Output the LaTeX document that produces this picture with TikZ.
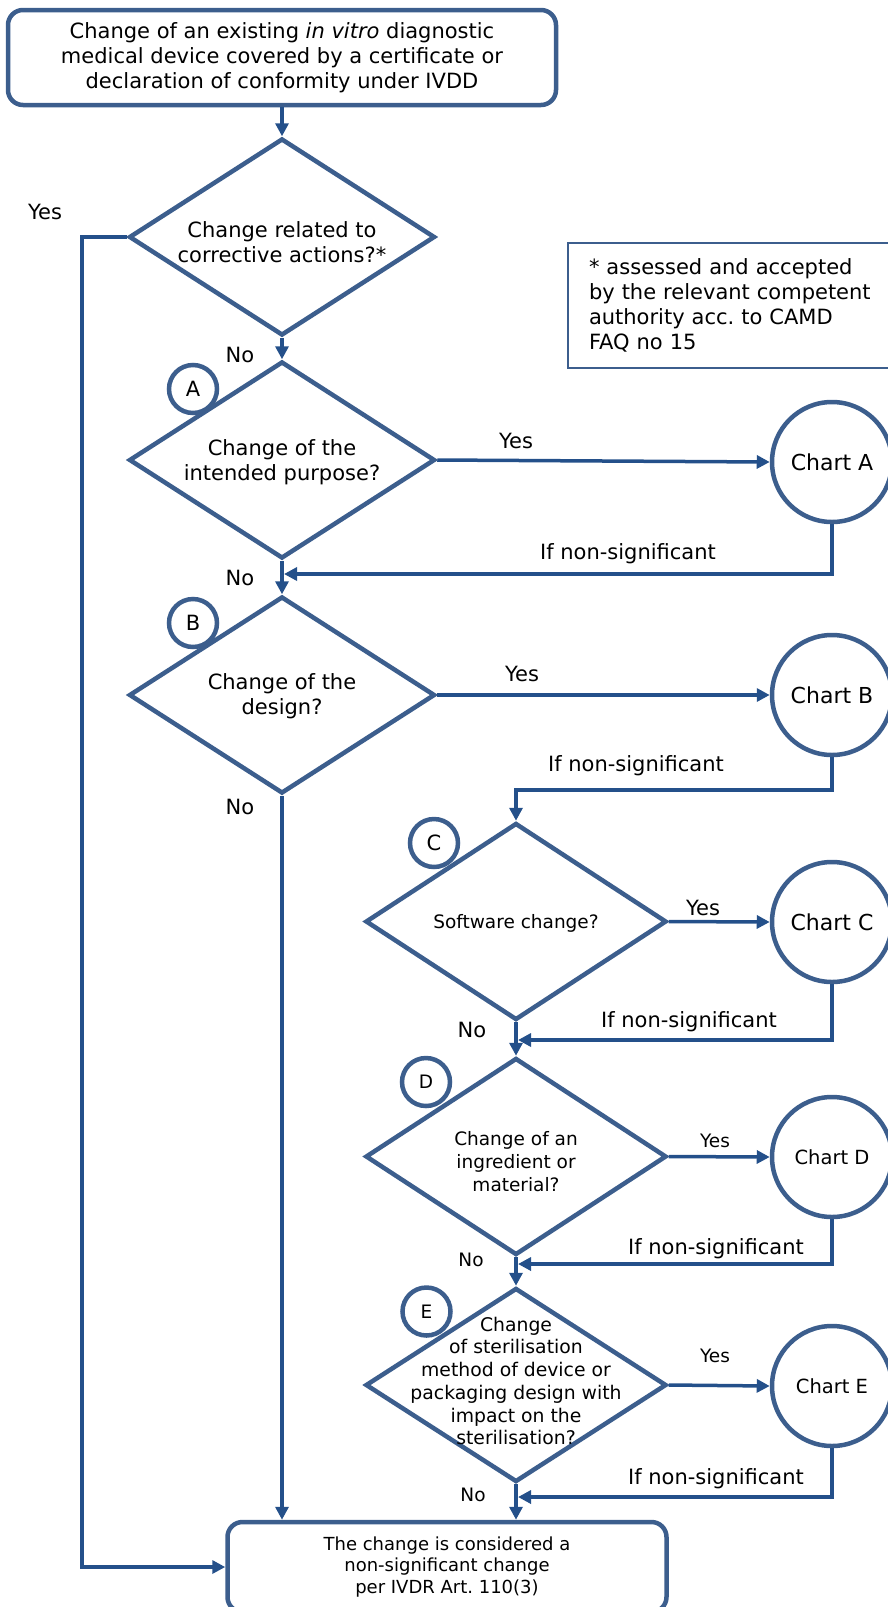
\documentclass[tikz,border=0pt]{standalone}
\usepackage{fontspec}
\setmainfont{DejaVu Sans}
\usetikzlibrary{arrows.meta,shapes.geometric}
\definecolor{shapeblue}{HTML}{3C5E8D}
\definecolor{linkblue}{HTML}{24508A}
\newcommand\szbig{\fontsize{21}{25}\selectfont}
\newcommand\szchart{\fontsize{22}{26}\selectfont}
\newcommand\szmid{\fontsize{18.5}{23}\selectfont}
\newcommand\szster{\fontsize{18.8}{22.7}\selectfont}
\newcommand\szfin{\fontsize{18}{21.8}\selectfont}
\frenchspacing
\tikzset{
  startbox/.style={draw=shapeblue, line width=4.5, rounded corners=15, inner sep=0, align=center},
  decision/.style={diamond, draw=shapeblue, line width=4.5, minimum width=306, minimum height=197, inner sep=0},
  chartcirc/.style={circle, draw=shapeblue, line width=4.5, minimum size=120, inner sep=0, font=\szchart},
  markcirc/.style={circle, draw=shapeblue, line width=4.5, fill=white, minimum size=48, inner sep=0, font=\szbig},
  notebox/.style={draw=shapeblue, line width=2, align=left},
  link/.style={draw=linkblue, line width=3.5, -{Triangle[length=13,width=13]}},
  lbl/.style={inner sep=0, font=\szbig},
}
\begin{document}
\begin{tikzpicture}[x=1pt,y=-1pt]
%%%%% START %%%%%
\useasboundingbox (0,0) rectangle (888,1607);
\clip (0,0) rectangle (888,1607);

% start and end
\node[startbox, font=\szbig, minimum width=548, minimum height=95] (start) at (282,57.5)
  {Change of an existing \textit{in vitro} diagnostic\\medical device covered by a certificate or\\declaration of conformity under IVDD};
\node[startbox, font=\szfin, minimum width=439, minimum height=90] (fin) at (447,1567)
  {The change is considered a\\non-significant change\\per IVDR Art. 110(3)};

% corrective actions
\node[decision] (dq) at (282,237) {};
\node[lbl, align=center] (tq) at (282,242) {Change related to\\corrective actions?*};
\node[notebox, anchor=north west, font=\szbig, text width=290, inner xsep=21, minimum height=125] (note) at (567,242)
  {* assessed and accepted\\by the relevant competent\\authority acc. to CAMD\\FAQ no 15};

% A
\node[decision] (dA) at (282,460) {};
\node[lbl, align=center] (tA) at (282,462) {Change of the\\intended purpose?};
\node[markcirc] (mA) at (193,389) {A};
\node[chartcirc] (cA) at (832,462) {Chart A};

% B
\node[decision] (dB) at (282,695) {};
\node[lbl, align=center] (tB) at (282,696) {Change of the\\design?};
\node[markcirc] (mB) at (193,623) {B};
\node[chartcirc] (cB) at (832,695) {Chart B};

% C
\node[decision, minimum width=301] (dC) at (516,921.5) {};
\node[lbl, font=\szmid] (tC) at (516,923) {Software change?};
\node[markcirc] (mC) at (434,843) {C};
\node[chartcirc] (cC) at (832,922) {Chart C};

% D
\node[decision, minimum width=301] (dD) at (516,1156.5) {};
\node[lbl, font=\szmid, align=center] (tD) at (516,1162) {Change of an\\ingredient or\\material?};
\node[markcirc, font=\szmid] (mD) at (426,1082) {D};
\node[chartcirc, font=\fontsize{19.5}{23}\selectfont] (cD) at (832,1157) {Chart D};

% E
\node[decision, minimum width=301, minimum height=194] (dE) at (516,1385) {};
\node[lbl, font=\szster, align=center] (tE) at (516,1381)
  {Change\\of sterilisation\\method of device or\\packaging design with\\impact on the\\sterilisation?};
\node[markcirc, font=\szmid] (mE) at (426.5,1311.5) {E};
\node[chartcirc, font=\fontsize{19.5}{23}\selectfont] (cE) at (832,1386) {Chart E};

% bends
\coordinate (yesbend) at (82,237);
\coordinate (backA) at (284,574);
\coordinate (backB) at (516,790);
\coordinate (backC) at (518,1040);
\coordinate (backD) at (518,1264);
\coordinate (backE) at (518,1497);

% down the middle
\draw[link] (start.south) -- (dq.north);
\draw[link] (dq.south) -- (dA.north);
\draw[link] (dA.south) -- (dB.north);
\draw[link] (dB.south) -- (dB.south |- fin.north);
\draw[link] (dq.west) -- (yesbend) |- (fin.west);
\draw[link] (dC.south) -- (dD.north);
\draw[link] (dD.south) -- (dE.north);
\draw[link] (dE.south) -- (dE.south |- fin.north);

% to the charts and back
\draw[link] (dA.east) -- (cA.west);
\draw[link] (dB.east) -- (cB.west);
\draw[link] (dC.east) -- (cC.west);
\draw[link] (dD.east) -- (cD.west);
\draw[link] (dE.east) -- (cE.west);
\draw[link] (cA.south) |- (backA);
\draw[link] (cB.south) |- (backB) -- (dC.north);
\draw[link] (cC.south) |- (backC);
\draw[link] (cD.south) |- (backD);
\draw[link] (cE.south) |- (backE);

% labels
\node[lbl] (yes0) at (45,212) {Yes};
\node[lbl] (no0) at (240,355) {No};
\node[lbl] (yesA) at (516,441) {Yes};
\node[lbl] (nsA) at (628,554) {If non-significant};
\node[lbl] (noA) at (240,578) {No};
\node[lbl] (yesB) at (522,674) {Yes};
\node[lbl] (nsB) at (636,766) {If non-significant};
\node[lbl] (noB) at (240,807) {No};
\node[lbl] (yesC) at (703,908) {Yes};
\node[lbl] (nsC) at (689,1022) {If non-significant};
\node[lbl] (noC) at (472,1030) {No};
\node[lbl, font=\szmid] (yesD) at (715,1141) {Yes};
\node[lbl] (nsD) at (716,1249) {If non-significant};
\node[lbl, font=\szmid] (noD) at (471,1260) {No};
\node[lbl, font=\szmid] (yesE) at (715,1356) {Yes};
\node[lbl] (nsE) at (716,1479) {If non-significant};
\node[lbl, font=\szmid] (noE) at (473,1495) {No};
%%%%% END %%%%%
\end{tikzpicture}
\end{document}
